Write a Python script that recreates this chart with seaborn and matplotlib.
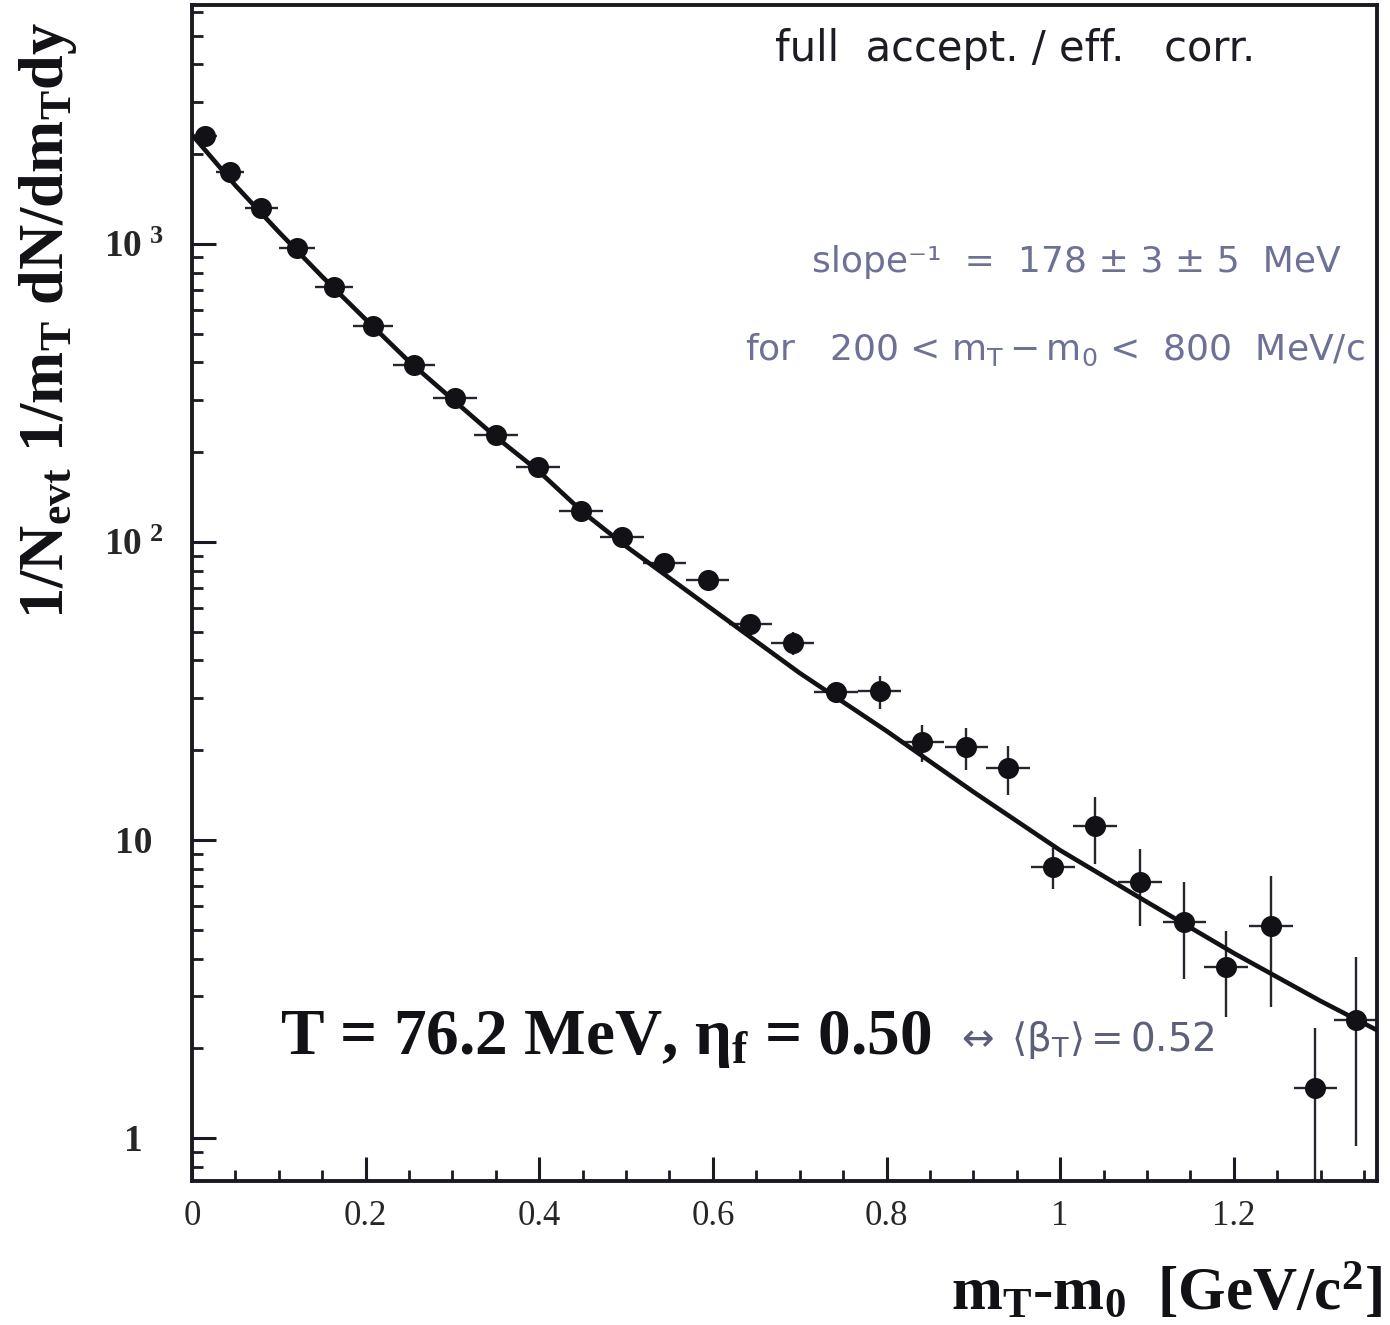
import matplotlib
matplotlib.use("Agg")
import matplotlib.pyplot as plt
import seaborn as sns
import pandas as pd
from matplotlib.ticker import FixedLocator, FixedFormatter, MultipleLocator, LogLocator, NullFormatter

# Transverse-mass spectrum: bin centres [GeV/c^2], yields and errors
mt_m0 = [0.015, 0.044, 0.0795, 0.121, 0.1636, 0.2085, 0.2558, 0.303, 0.350, 0.3986,
         0.448, 0.4954, 0.544, 0.594, 0.643, 0.692, 0.742, 0.792, 0.841, 0.892,
         0.940, 0.992, 1.040, 1.092, 1.143, 1.191, 1.243, 1.294, 1.341]
dn_dmt = [2303, 1745, 1321, 970, 717, 531, 393, 304, 229, 179,
          127, 104, 85, 74.5, 53, 45.8, 31.4, 31.6, 21.3, 20.5,
          17.4, 8.12, 11.1, 7.23, 5.31, 3.75, 5.15, 1.47, 2.49]
dn_err = [40, 30, 25, 18, 14, 11, 8, 7, 5, 4.5,
          3.5, 3.0, 3.0, 3.0, 3.5, 4.0, 2.5, 4.0, 3.0, 3.3,
          3.2, 1.3, 2.8, 2.1, 1.9, 1.2, 2.4, 0.87, 1.55]
bin_half = [0.014, 0.016, 0.019, 0.021, 0.022, 0.023, 0.024, 0.025, 0.025, 0.025,
            0.025, 0.025, 0.025, 0.025, 0.025, 0.025, 0.025, 0.025, 0.025, 0.025,
            0.025, 0.025, 0.025, 0.025, 0.025, 0.025, 0.025, 0.025, 0.025]

# Blast-wave fit curve
fit_x = [0.0, 0.05, 0.1, 0.15, 0.2, 0.25, 0.3, 0.35, 0.4, 0.45,
         0.5, 0.6, 0.7, 0.8, 0.9, 1.0, 1.1, 1.2, 1.3, 1.37]
fit_y = [2323, 1570, 1096, 776, 558, 403, 301, 225, 172, 126,
         96.6, 59.2, 36.3, 23.2, 14.5, 9.23, 6.19, 4.17, 2.88, 2.26]

y_ticks = [1, 10, 100, 1000]
y_tick_labels = ["1", "10", r"$10^{\ 2}$", r"$10^{\ 3}$"]
x_ticks = [0, 0.2, 0.4, 0.6, 0.8, 1.0, 1.2]
x_tick_labels = ["0", "0.2", "0.4", "0.6", "0.8", "1", "1.2"]

sns.set_theme(style="ticks")
plt.rcParams.update({
    "font.family": ["Liberation Serif", "DejaVu Sans"],
    "mathtext.fontset": "custom",
    "mathtext.rm": "Liberation Serif:bold",
    "mathtext.it": "Liberation Serif:bold",
    "mathtext.bf": "Liberation Serif:bold",
    "mathtext.sf": "DejaVu Sans",
    "axes.edgecolor": "#1a1a22",
})

W, H = 1390, 1325
fig = plt.figure(figsize=(W / 100, H / 100), dpi=100)
L, R, T, B = 192, 1377, 5, 1181
ax = fig.add_axes([L / W, 1 - B / H, (R - L) / W, (B - T) / H])
ax.set_yscale("log")

spectrum = pd.DataFrame({"mt": mt_m0, "yield": dn_dmt})
fit = pd.DataFrame({"mt": fit_x, "yield": fit_y})

ax.errorbar(mt_m0, dn_dmt, xerr=bin_half, yerr=dn_err, fmt="none",
            ecolor="#25252d", elinewidth=1.7, capsize=0, zorder=2)
sns.lineplot(data=fit, x="mt", y="yield", ax=ax, color="#111116", lw=3.3,
             sort=False, estimator=None, zorder=3)
sns.scatterplot(data=spectrum, x="mt", y="yield", ax=ax, s=230, color="#111116",
                edgecolor="#111116", linewidth=0, zorder=4)

ax.set_xlim(0, 1.365)
ax.set_ylim(0.717, 6330)
ax.set_xlabel("")
ax.set_ylabel("")

ax.xaxis.set_major_locator(FixedLocator(x_ticks))
ax.xaxis.set_major_formatter(FixedFormatter(x_tick_labels))
ax.xaxis.set_minor_locator(MultipleLocator(0.05))
ax.yaxis.set_major_locator(FixedLocator(y_ticks))
ax.yaxis.set_major_formatter(FixedFormatter(y_tick_labels))
ax.yaxis.set_minor_locator(LogLocator(base=10, subs=range(2, 10), numticks=20))
ax.yaxis.set_minor_formatter(NullFormatter())

ax.tick_params(axis="both", which="major", direction="in", length=17, width=2.2,
               color="#1a1a22", top=False, right=False)
ax.tick_params(axis="both", which="minor", direction="in", length=8, width=2.0,
               color="#1a1a22", top=False, right=False)
ax.tick_params(axis="x", which="major", pad=14, labelsize=25)
ax.tick_params(axis="y", which="major", pad=42, labelsize=27)
for lab in ax.get_yticklabels():
    lab.set_horizontalalignment("center")
    lab.set_fontweight("bold")
for sp in ax.spines.values():
    sp.set_linewidth(2.8)
    sp.set_visible(True)

# Axis titles
fig.text(48 / W, 1 - 320 / H, r"1/N$_{\rm evt}$ 1/m$_{\rm T}$ dN/dm$_{\rm T}$dy",
         rotation=90, ha="center", va="center", fontsize=45, fontweight="bold",
         color="#111116")
fig.text(1382 / W, 1 - 1293 / H, r"m$_{\rm T}$-m$_{0}$  [GeV/c$^{2}$]",
         ha="right", va="center", fontsize=44, fontweight="bold", color="#111116")

# Annotations
hand = ["DejaVu Sans"]
ax.text(0.492, 0.963, "full  accept. / eff.   corr.", transform=ax.transAxes,
        ha="left", va="center", fontsize=30, family=hand, color="#1c1c24")
ax.text(0.523, 0.7815, "slope\u207b\u00b9  =  178 \u00b1 3 \u00b1 5  MeV", transform=ax.transAxes,
        ha="left", va="center", fontsize=26, family=hand, color="#6d7196")
ax.text(0.4667, 0.7066, r"for   200 < $\mathsf{m_T - m_0}$ <  800  MeV/c", transform=ax.transAxes,
        ha="left", va="center", fontsize=26, family=hand, color="#6d7196")
ax.text(0.0743, 0.12, r"T = 76.2 MeV, $\eta_{\rm f}$ = 0.50", transform=ax.transAxes,
        ha="left", va="center", fontsize=47, fontweight="bold", color="#111116")
ax.text(0.644, 0.12, r"$\mathsf{\leftrightarrow\ \langle\beta_T\rangle = 0.52}$",
        transform=ax.transAxes, ha="left", va="center", fontsize=28, family=hand,
        color="#5c5f78")

fig.savefig("out.png", dpi=100)
